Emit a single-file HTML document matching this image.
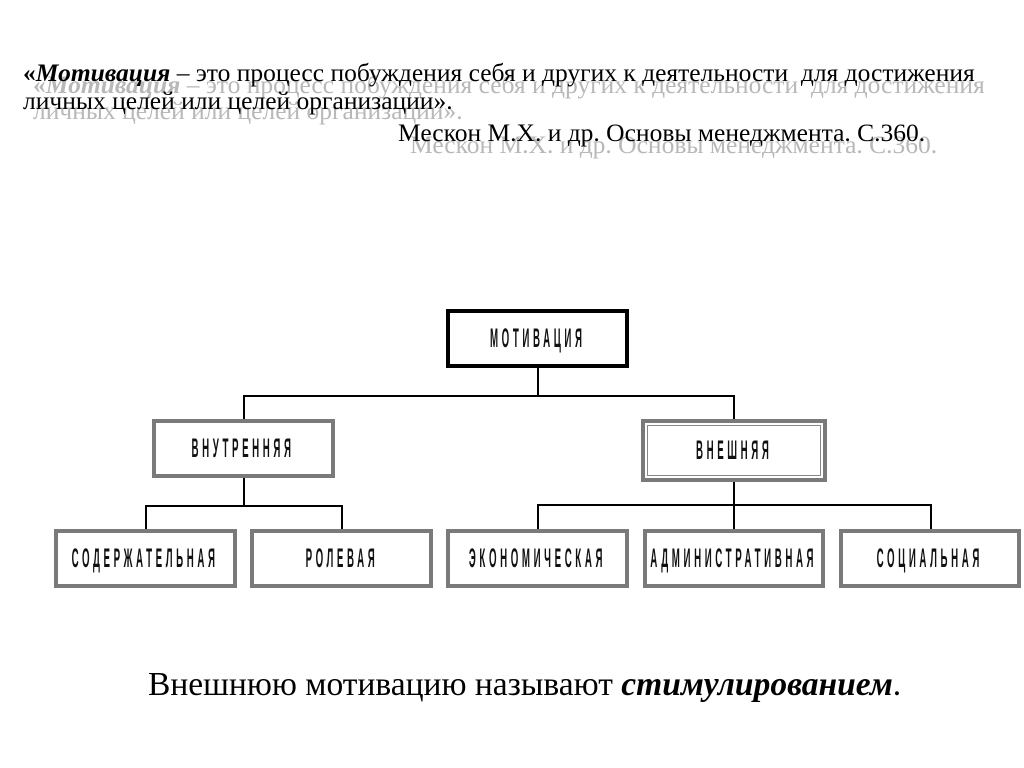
<!DOCTYPE html>
<html><head><meta charset="utf-8"><style>
body{margin:0;width:1024px;height:768px;background:#fff;position:relative;overflow:hidden;font-family:"Liberation Serif","DejaVu Serif",serif}
.t{position:absolute;font-size:25.5px;white-space:nowrap;line-height:1}
.g{color:#b8b8b8}
.b{position:absolute;box-sizing:border-box;border:4px solid #7a7a7a;background:#fff;display:flex;align-items:center;justify-content:center}
.l{font-family:"Liberation Sans",sans-serif;font-weight:bold;font-size:27px;transform:scaleX(0.36);letter-spacing:10px;white-space:nowrap;color:#111}
.h{position:absolute;background:#000;height:1.5px}
.v{position:absolute;background:#000;width:1.5px}
</style></head><body>
<div class="t g" style="left:33px;top:72px"><b>«<i>Мотивация</i></b> – это процесс побуждения себя и других к деятельности&nbsp; для достижения</div>
<div class="t g" style="left:33px;top:98px">личных целей или целей организации».</div>
<div class="t g" style="left:410px;top:132px">Мескон М.Х. и др. Основы менеджмента. С.360.</div>
<div class="t" style="left:23px;top:60px"><b>«<i>Мотивация</i></b> – это процесс побуждения себя и других к деятельности&nbsp; для достижения</div>
<div class="t" style="left:23px;top:88px">личных целей или целей организации».</div>
<div class="t" style="left:398px;top:120px">Мескон М.Х. и др. Основы менеджмента. С.360.</div>

<div class="v" style="left:537px;top:367px;height:28px"></div>
<div class="h" style="left:243px;top:395px;width:491px"></div>
<div class="v" style="left:243px;top:395px;height:24px"></div>
<div class="v" style="left:733px;top:395px;height:24px"></div>
<div class="v" style="left:243px;top:477px;height:29px"></div>
<div class="h" style="left:145px;top:505px;width:197px"></div>
<div class="v" style="left:145px;top:505px;height:24px"></div>
<div class="v" style="left:341px;top:505px;height:24px"></div>
<div class="v" style="left:733px;top:481px;height:48px"></div>
<div class="h" style="left:537px;top:504px;width:394px"></div>
<div class="v" style="left:537px;top:504px;height:25px"></div>
<div class="v" style="left:930px;top:504px;height:25px"></div>

<div class="b" style="left:446px;top:309px;width:183px;height:59px;border:4px solid #000"><span class="l">МОТИВАЦИЯ</span></div>
<div class="b" style="left:152px;top:419px;width:183px;height:59px"><span class="l">ВНУТРЕННЯЯ</span></div>
<div class="b" style="left:641px;top:419px;width:186px;height:63px"><div style="position:absolute;left:2px;top:2px;right:2px;bottom:2px;border:1px solid #888"></div><span class="l">ВНЕШНЯЯ</span></div>
<div class="b" style="left:54px;top:529px;width:183px;height:59px"><span class="l">СОДЕРЖАТЕЛЬНАЯ</span></div>
<div class="b" style="left:250px;top:529px;width:183px;height:59px"><span class="l">РОЛЕВАЯ</span></div>
<div class="b" style="left:446px;top:529px;width:183px;height:59px"><span class="l">ЭКОНОМИЧЕСКАЯ</span></div>
<div class="b" style="left:643px;top:529px;width:182px;height:59px"><span class="l">АДМИНИСТРАТИВНАЯ</span></div>
<div class="b" style="left:839px;top:529px;width:182px;height:59px"><span class="l">СОЦИАЛЬНАЯ</span></div>

<div class="t" style="left:148px;top:668px;font-size:33.5px">Внешнюю мотивацию называют <b><i>стимулированием</i></b>.</div>
</body></html>
